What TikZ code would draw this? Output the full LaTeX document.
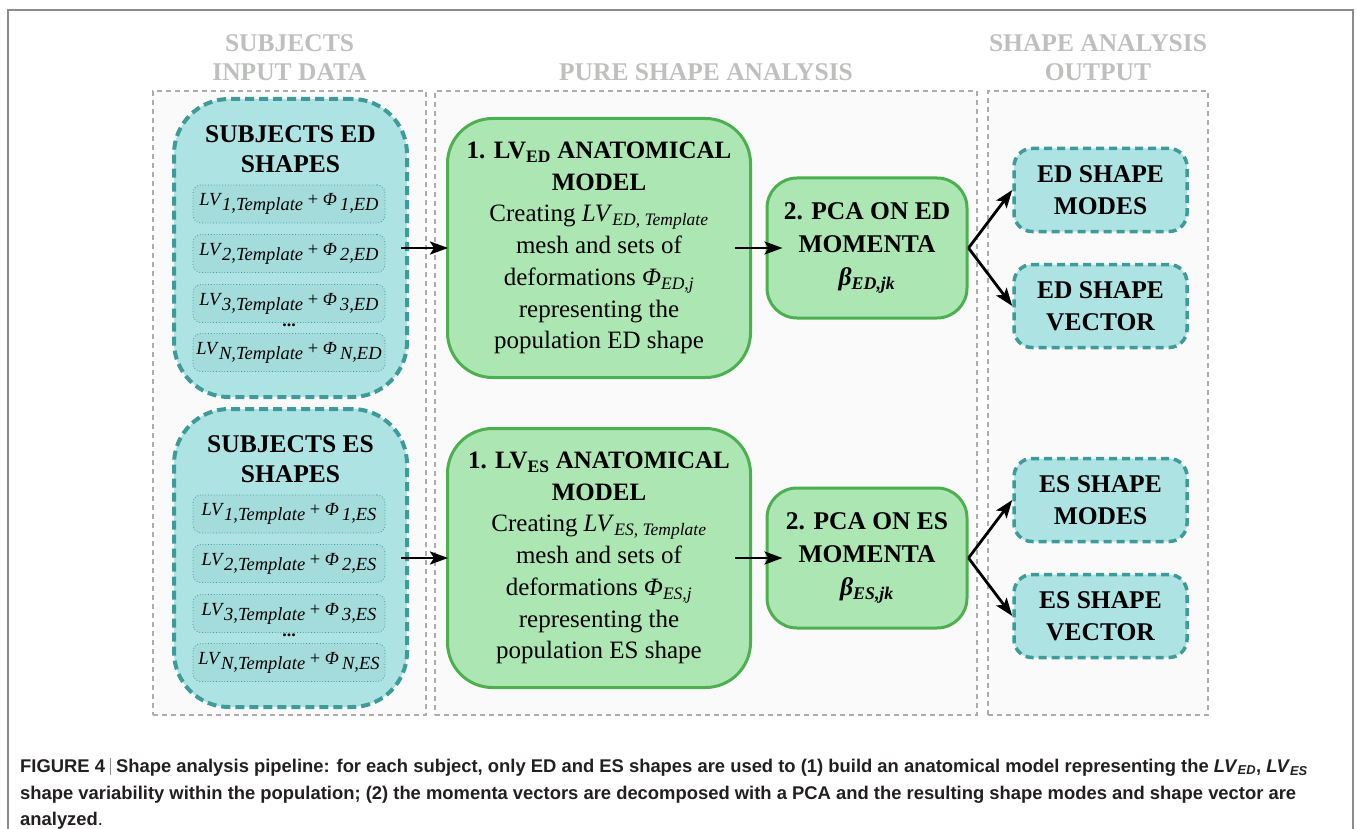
\documentclass[tikz,border=0pt]{standalone}
\usepackage{fontspec}
\setmainfont{Liberation Serif}
\newfontfamily\captionfont{Liberation Sans}
\usetikzlibrary{arrows.meta}

\definecolor{tealLine}{RGB}{61,155,153}
\definecolor{tealFill}{RGB}{174,227,227}
\definecolor{rowFill}{RGB}{164,220,220}
\definecolor{greenLine}{RGB}{76,175,80}
\definecolor{greenFill}{RGB}{172,230,178}
\definecolor{columnLine}{RGB}{172,172,172}
\definecolor{columnFill}{RGB}{250,250,250}
\definecolor{headText}{RGB}{190,192,190}
\definecolor{frameLine}{RGB}{140,140,140}
\definecolor{captionText}{RGB}{35,31,32}

\newcommand{\lvterm}[2]{\textit{LV}\lower5pt\hbox{\textit{#1,Template}} + \textit{Φ}\,\lower5pt\hbox{\textit{#1,#2}}}
\newcommand{\capbar}{{\color{frameLine}\rule[-3pt]{0.8pt}{17pt}}}

\begin{document}
\begin{tikzpicture}
[x=1pt,y=-1pt,
  frameDecorate/.style={draw=frameLine,line width=1.5pt},%
  columnDecorate/.style={shape=rectangle,draw=columnLine,fill=columnFill,line width=2pt,dash pattern=on 5pt off 4pt,minimum height=624pt,inner sep=0pt},%
  headDecorate/.style={align=center,text=headText,font=\bfseries\fontsize{25.5}{29.5}\selectfont,inner sep=0pt},%
  subjectDecorate/.style={shape=rectangle,rounded corners=55pt,draw=tealLine,fill=tealFill,line width=4pt,dash pattern=on 9pt off 5pt,minimum width=233pt,minimum height=298pt},%
  titleDecorate/.style={align=center,font=\bfseries\fontsize{25.5}{30.5}\selectfont,inner sep=0pt},%
  rowDecorate/.style={shape=rectangle,rounded corners=8pt,draw=tealLine,fill=rowFill,line width=0.8pt,dotted,minimum width=192pt,minimum height=38pt,inner sep=0pt,font=\fontsize{18.5}{22}\selectfont},%
  modelDecorate/.style={shape=rectangle,rounded corners=45pt,draw=greenLine,fill=greenFill,line width=3pt,minimum width=303pt,minimum height=259pt,inner sep=0pt,align=center,font=\fontsize{25}{31.7}\selectfont},%
  pcaDecorate/.style={shape=rectangle,rounded corners=30pt,draw=greenLine,fill=greenFill,line width=3pt,minimum width=200pt,minimum height=140pt,inner sep=0pt,align=center,font=\bfseries\fontsize{25.5}{33}\selectfont},%
  outputDecorate/.style={shape=rectangle,rounded corners=18pt,draw=tealLine,fill=tealFill,line width=3.5pt,dash pattern=on 8pt off 5pt,minimum width=173pt,minimum height=83pt,inner sep=0pt,align=center,font=\bfseries\fontsize{25.5}{32}\selectfont},%
  arrowDecorate/.style={->,>={Stealth[length=18pt,width=13pt,inset=4pt]},line width=2.8pt},%
  captionDecorate/.style={anchor=base west,inner sep=0pt,text=captionText,font=\captionfont\bfseries\fontsize{18.4}{22}\selectfont}]
\useasboundingbox (0,0) rectangle (1356,829);
%% frame round the figure
\draw[frameDecorate] (8,829) -- (8,10) -- (1353,10) -- (1353,829);
%% columns and their headings
\foreach \nodename/\x/\w in {colIn/289.5/273, colPure/706/542, colOut/1098/220}
{
  \node (\nodename) at (\x,403) [columnDecorate,minimum width=\w pt] {};
}
\node (headIn) at (289.5,57.5) [headDecorate] {SUBJECTS\\INPUT DATA};
\node (headPure) at (706,72) [headDecorate] {PURE SHAPE ANALYSIS};
\node (headOut) at (1098,57.5) [headDecorate] {SHAPE ANALYSIS\\OUTPUT};
%% one pipeline for each phase
\foreach \ph/\yc in {ED/248, ES/558}
{
  \node (subj\ph) at (290.5,\yc) [subjectDecorate] {};
  \node (title\ph) at (290.5,\yc-99) [titleDecorate] {SUBJECTS \ph\\SHAPES};
  \foreach \i/\dy in {1/-44, 2/5.5, 3/55.5, N/104.5}
  {
    \node (row\ph\i) at (289,\yc+\dy) [rowDecorate] {\lvterm{\i}{\ph}};
  }
  \node (dots\ph) at (289,\yc+77) [font=\bfseries\fontsize{18}{20}\selectfont,inner sep=0pt] {...};
  \node (model\ph) at (599,\yc) [modelDecorate]
    {\textbf{1. LV\textsubscript{\ph} ANATOMICAL}\\ \textbf{MODEL}\\
     Creating \textit{LV}\textsubscript{\textit{\ph, Template}}\\ mesh and sets of\\
     deformations \textit{Φ}\textsubscript{\textit{\ph,j}}\\ representing the\\ population \ph{} shape};
  \node (pca\ph) at (867,\yc) [pcaDecorate]
    {2. PCA ON \ph\\ MOMENTA\\ \textit{β}\textsubscript{\textit{\ph,jk}}};
  \node (modes\ph) at (1100.5,\yc-58) [outputDecorate] {\ph{} SHAPE\\MODES};
  \node (vector\ph) at (1100.5,\yc+58) [outputDecorate] {\ph{} SHAPE\\VECTOR};
  %% arrows
  \draw[arrowDecorate,shorten <=-8pt,shorten >=-2pt] (subj\ph) -- (model\ph);
  \draw[arrowDecorate,shorten <=-17pt,shorten >=-17pt] (model\ph) -- (pca\ph);
  \draw[arrowDecorate] (pca\ph.east) -- (modes\ph.west);
  \draw[arrowDecorate] (pca\ph.east) -- (vector\ph.west);
}
%% caption
\node (capA) at (20,772) [captionDecorate]
  {FIGURE 4 \capbar{} Shape analysis pipeline: for each subject, only ED and ES shapes are used to (1) build an anatomical model representing the \textit{LV}\textsubscript{\textit{ED}}, \textit{LV}\textsubscript{\textit{ES}}};
\node (capB) at (20,799) [captionDecorate]
  {shape variability within the population; (2) the momenta vectors are decomposed with a PCA and the resulting shape modes and shape vector are};
\node (capC) at (20,825) [captionDecorate] {analyzed{\mdseries .}};
\end{tikzpicture}
\end{document}
